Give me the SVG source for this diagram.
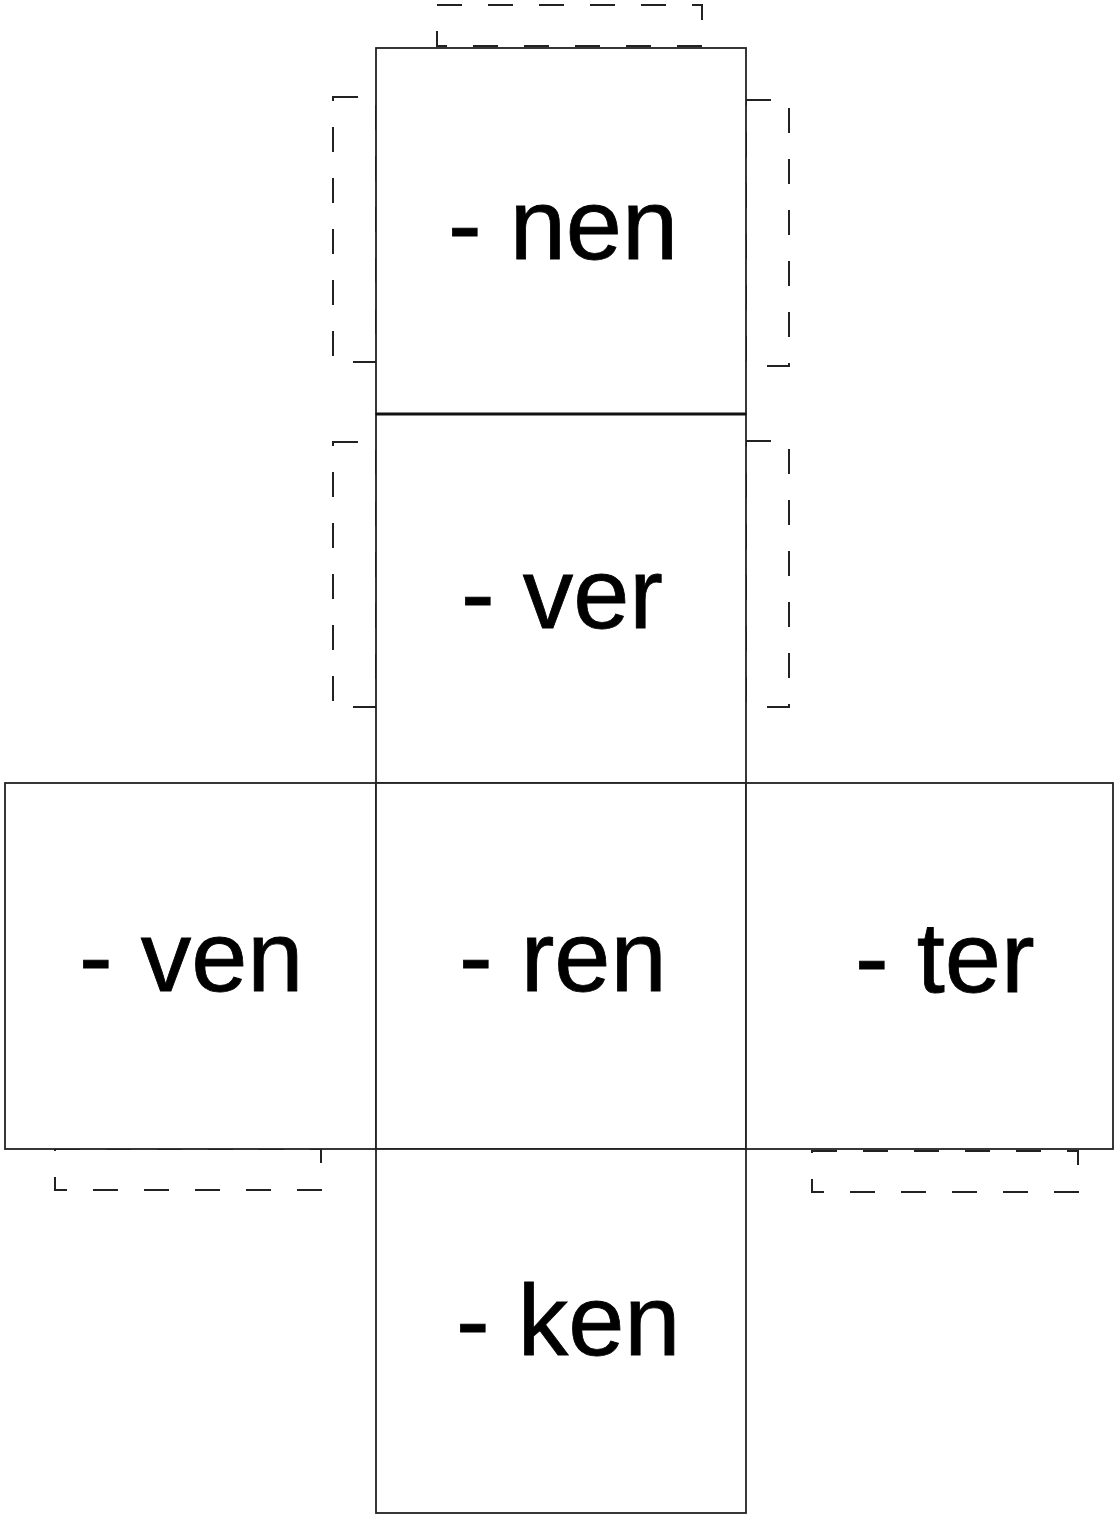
<svg xmlns="http://www.w3.org/2000/svg" width="1115" height="1515" viewBox="0 0 1115 1515">
<style>
.face{fill:#fff;stroke:#222;stroke-width:1.8}
.flap{fill:none;stroke:#222;stroke-width:2;stroke-dasharray:25 26}
.lbl{font-family:"Liberation Sans",Arial,sans-serif;font-size:101px;fill:#000;stroke:#000;stroke-width:0.8}
</style>
<rect width="1115" height="1515" fill="#fff"/>
<g id="flaps">
<rect class="flap" x="437" y="5" width="265" height="41"/>
<rect class="flap" x="333" y="97" width="43" height="265"/>
<rect class="flap" x="746" y="100" width="43" height="266"/>
<rect class="flap" x="333" y="442" width="43" height="265"/>
<rect class="flap" x="746" y="441" width="43" height="266"/>
<rect class="flap" x="55" y="1149" width="266" height="41"/>
<rect class="flap" x="812" y="1151" width="266" height="41"/>
</g>
<g id="face-nen"><rect class="face" x="376" y="48" width="370" height="366"/><text class="lbl" x="448" y="259">- nen</text></g>
<g id="face-ver"><rect class="face" x="376" y="414" width="370" height="369"/><text class="lbl" x="461" y="628">- ver</text></g>
<g id="face-ven"><rect class="face" x="5" y="783" width="371" height="366"/><text class="lbl" x="79" y="991">- ven</text></g>
<g id="face-ren"><rect class="face" x="376" y="783" width="370" height="366"/><text class="lbl" x="459" y="991">- ren</text></g>
<g id="face-ter"><rect class="face" x="746" y="783" width="367" height="366"/><text class="lbl" x="855" y="992">- ter</text></g>
<g id="face-ken"><rect class="face" x="376" y="1149" width="370" height="364"/><text class="lbl" x="456" y="1355">- ken</text></g>
<line x1="376" y1="414" x2="746" y2="414" stroke="#111" stroke-width="2.8"/>
</svg>
